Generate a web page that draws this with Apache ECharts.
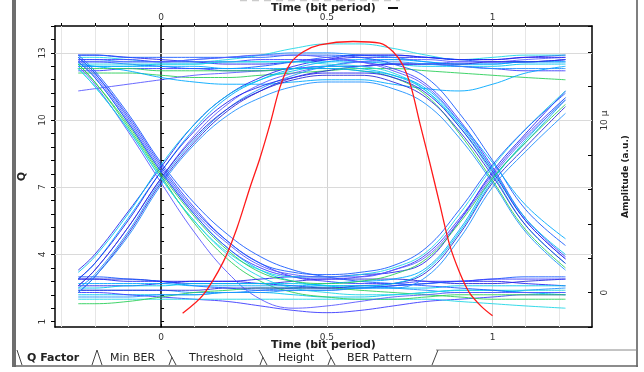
<!DOCTYPE html>
<html><head><meta charset="utf-8">
<script src="https://cdn.jsdelivr.net/npm/echarts@6/dist/echarts.min.js"></script>
<style>html,body{margin:0;padding:0;background:#fff}#c{width:644px;height:372px}</style>
</head><body><div id="c"></div>
<script>
// ---- sample times (bit periods) ----
const T = [-0.25,-0.2,-0.1,0,0.1,0.2,0.3,0.4,0.5,0.6,0.7,0.8,0.9,1,1.1,1.22];

// ---- eye traces (Q scale) ----
const highRails = [
  [12.9,12.9,12.8,12.7,12.6,12.5,12.5,12.6,12.7,12.8,12.8,12.8,12.7,12.7,12.8,12.9],
  [12.7,12.7,12.6,12.6,12.7,12.8,12.9,13.0,13.0,12.9,12.8,12.6,12.5,12.5,12.6,12.6],
  [12.4,12.4,12.4,12.5,12.5,12.6,12.6,12.6,12.6,12.6,12.5,12.4,12.4,12.4,12.5,12.5],
  [12.2,12.2,12.3,12.3,12.3,12.2,12.2,12.3,12.4,12.4,12.5,12.5,12.4,12.3,12.2,12.2],
  [12.8,12.8,12.7,12.6,12.6,12.7,12.9,13.2,13.4,13.4,13.2,12.9,12.7,12.8,12.9,12.9],
  [12.6,12.6,12.5,12.4,12.3,12.3,12.4,12.6,12.8,12.9,12.9,12.8,12.7,12.6,12.6,12.7],
  [12.1,12.1,12.1,12.0,11.9,11.9,12.0,12.1,12.2,12.3,12.3,12.2,12.1,12.0,11.9,11.8],
  [11.3,11.4,11.6,11.8,12.0,12.1,12.2,12.3,12.4,12.4,12.5,12.5,12.6,12.6,12.6,12.7],
  [12.5,12.4,12.2,11.9,11.7,11.6,11.6,11.7,11.8,11.8,11.6,11.4,11.3,11.6,12.1,12.4]
];
const lowRails = [
  [2.9,2.9,2.9,2.8,2.7,2.7,2.7,2.8,2.9,2.9,2.9,2.8,2.7,2.7,2.8,2.9],
  [2.6,2.6,2.6,2.7,2.8,2.8,2.7,2.6,2.5,2.5,2.6,2.7,2.8,2.8,2.7,2.6],
  [2.4,2.4,2.4,2.4,2.3,2.3,2.4,2.5,2.6,2.6,2.5,2.4,2.3,2.3,2.4,2.5],
  [2.2,2.2,2.2,2.2,2.2,2.3,2.3,2.2,2.1,2.1,2.2,2.3,2.4,2.4,2.3,2.2],
  [2.3,2.3,2.2,2.1,2.0,1.9,1.7,1.5,1.4,1.5,1.7,1.9,2.0,2.1,2.2,2.2],
  [2.0,2.0,2.0,2.0,2.0,2.0,2.0,2.0,2.0,2.0,2.0,2.0,1.9,1.8,1.7,1.6],
  [3.0,3.0,2.9,2.8,2.6,2.5,2.4,2.4,2.4,2.5,2.6,2.7,2.8,2.9,3.0,3.0],
  [1.8,1.8,1.9,2.1,2.3,2.4,2.5,2.5,2.5,2.4,2.3,2.2,2.1,2.0,2.0,2.0]
];
const riseStayHigh = [
  [2.6,3.3,5.2,7.4,9.3,10.7,11.6,12.1,12.4,12.6,12.7,12.7,12.6,12.6,12.7,12.8],
  [2.9,3.6,5.6,7.7,9.6,11.0,11.8,12.3,12.6,12.7,12.7,12.6,12.5,12.5,12.6,12.6],
  [2.3,3.0,4.9,7.2,9.0,10.4,11.3,11.9,12.2,12.4,12.5,12.5,12.5,12.6,12.6,12.7],
  [3.3,4.0,5.9,7.9,9.8,11.1,11.9,12.4,12.7,12.9,12.9,12.8,12.7,12.7,12.8,12.8],
  [2.5,3.1,5.0,7.3,9.1,10.5,11.4,12.0,12.4,12.6,12.6,12.5,12.4,12.3,12.3,12.3]
];
const fallStayLow = [
  [12.6,11.9,9.9,7.7,5.8,4.3,3.3,2.8,2.6,2.5,2.5,2.5,2.6,2.6,2.6,2.6],
  [12.8,12.1,10.2,8.0,6.1,4.6,3.6,3.0,2.8,2.7,2.7,2.8,2.8,2.9,2.9,2.9],
  [12.3,11.5,9.6,7.4,5.5,4.0,3.0,2.5,2.3,2.2,2.2,2.3,2.4,2.4,2.4,2.4],
  [12.9,12.2,10.3,8.1,6.3,4.9,3.9,3.3,3.0,2.8,2.7,2.6,2.5,2.4,2.3,2.3],
  [12.5,11.7,9.7,7.5,5.4,3.8,2.8,2.3,2.1,2.0,2.0,2.1,2.2,2.2,2.2,2.2],
  [12.4,11.6,9.5,7.2,5.0,3.2,2.0,1.6,1.7,1.9,2.1,2.2,2.3,2.3,2.3,2.3]
];
const lowThenRise = [
  [2.7,2.7,2.7,2.7,2.6,2.6,2.6,2.6,2.7,2.8,2.9,3.4,5.1,7.4,9.0,10.9],
  [2.4,2.4,2.4,2.4,2.4,2.5,2.5,2.5,2.5,2.6,2.7,3.2,4.9,7.2,8.8,10.6],
  [2.9,2.9,2.8,2.8,2.8,2.8,2.9,3.0,3.0,3.1,3.2,3.7,5.5,7.7,9.4,11.3],
  [2.1,2.1,2.1,2.2,2.2,2.3,2.3,2.4,2.4,2.5,2.5,3.0,4.7,7.0,8.6,10.3],
  [2.5,2.5,2.6,2.6,2.7,2.7,2.7,2.7,2.6,2.6,2.7,3.3,5.0,7.3,9.1,11.0]
];
const highThenFall = [
  [12.7,12.7,12.7,12.6,12.6,12.6,12.7,12.7,12.7,12.6,12.3,11.6,10.0,7.9,5.6,3.9],
  [12.5,12.5,12.5,12.5,12.5,12.6,12.6,12.6,12.5,12.4,12.1,11.3,9.7,7.6,5.3,3.6],
  [12.9,12.9,12.8,12.8,12.8,12.8,12.8,12.9,12.9,12.8,12.5,11.9,10.3,8.2,6.0,4.4],
  [12.3,12.3,12.3,12.2,12.2,12.2,12.2,12.3,12.3,12.2,11.9,11.1,9.4,7.3,5.1,3.4],
  [12.6,12.6,12.6,12.6,12.7,12.8,12.9,12.9,12.8,12.6,12.2,11.5,9.9,7.8,5.5,3.8],
  [12.4,12.4,12.4,12.4,12.4,12.3,12.3,12.3,12.3,12.2,12.0,11.4,9.9,8.1,6.2,4.7]
];
const isolatedOne = [
  [2.6,3.3,5.2,7.4,9.2,10.5,11.3,11.8,12.0,12.0,11.7,11.0,9.5,7.5,5.3,3.6],
  [2.9,3.6,5.5,7.7,9.5,10.8,11.5,11.9,12.1,12.1,11.9,11.2,9.7,7.7,5.5,3.8],
  [2.3,3.0,4.8,7.1,8.9,10.2,11.0,11.5,11.7,11.7,11.4,10.7,9.2,7.2,5.0,3.3],
  [3.2,3.9,5.8,8.0,9.8,11.1,11.8,12.2,12.4,12.3,12.0,11.3,9.8,7.8,5.6,4.0]
];
const isolatedZero = [
  [12.6,11.9,9.9,7.7,5.8,4.3,3.4,3.0,2.9,3.0,3.3,4.0,5.6,7.6,9.3,11.0],
  [12.3,11.5,9.6,7.4,5.5,4.1,3.3,3.0,3.0,3.1,3.4,4.1,5.8,7.9,9.6,11.3],
  [12.8,12.1,10.1,7.9,6.0,4.6,3.6,3.2,3.1,3.2,3.5,4.3,6.0,8.0,9.6,11.2],
  [12.5,11.7,9.8,7.6,5.7,4.2,3.2,2.8,2.7,2.8,3.1,3.8,5.4,7.4,9.0,10.7],
  [12.7,12.0,10.0,7.8,5.9,4.5,3.5,3.1,3.0,3.0,3.3,3.9,5.5,7.5,9.2,10.9]
];

// ---- red amplitude pulse (right axis, micro units) ----
const redTime = [0.065,0.127,0.188,0.228,0.268,0.298,0.328,0.358,0.389,0.429,0.479,0.579,0.66,0.70,0.73,0.755,0.78,0.81,0.84,0.87,0.90,0.93,0.966,1.0];
const redAmp  = [-1.2,-0.13,1.8,3.7,6.1,7.8,9.75,11.9,13.3,14.0,14.4,14.6,14.5,14.0,13.2,11.9,9.9,7.6,5.2,2.8,1.2,0.0,-0.8,-1.35];

// ---- ticks / labels ----
const xTicks = [-0.3,-0.2,-0.1,0,0.1,0.2,0.3,0.4,0.5,0.6,0.7,0.8,0.9,1,1.1,1.2];
const xLabels = [0,0.5,1];
const qTicks = [1,1.6,2.2,2.8,3.4,4,4.6,5.2,5.8,6.4,7,7.6,8.2,8.8,9.4,10,10.6,11.2,11.8,12.4,13,13.6,14.2];
const qLabels = [1,4,7,10,13];
const hGrid = [4,7,10,13];
const tabNames = ['Q Factor','Min BER','Threshold','Height','BER Pattern'];

const FONT = 'DejaVu Sans';
const palette = ['#2323ee','#1e90ff','#00c4f0','#3c3cff','#1fd6e6','#1a5cff','#2ccf5a','#5a5aff','#00a8ff','#2a2ad8'];

const series = [];
series.push({
  type:'line', xAxisIndex:0, yAxisIndex:0, data:[], silent:true, animation:false,
  markLine:{silent:true, symbol:'none', z:1, animation:false, label:{show:false},
    lineStyle:{color:'#e3e3e3', width:1, type:'solid'},
    data:[...xTicks.filter(v=>v!==0).map(v=>({xAxis:v, lineStyle:{color:(v===0.5||v===1)?'#d2d2d2':'#e6e6e6', type:'solid'}})),
          ...hGrid.map(v=>({yAxis:v, lineStyle:{color:'#dadada', type:'solid'}}))]}
});
const groups = [highRails, lowRails, riseStayHigh, fallStayLow, lowThenRise, highThenFall, isolatedOne, isolatedZero];
let k = 0;
groups.forEach(g => g.forEach(vals => {
  const c = palette[k % palette.length]; k++;
  series.push({type:'line', xAxisIndex:0, yAxisIndex:0, silent:true, animation:false,
    data:T.map((t,i)=>[t, vals[i]]), showSymbol:false, smooth:0.4,
    lineStyle:{width:1, color:c, opacity:0.9}, z:2});
}));
series.push({type:'line', xAxisIndex:0, yAxisIndex:2, silent:true, animation:false,
  data:redTime.map((t,i)=>[t, redAmp[i]]), showSymbol:false, smooth:0.3,
  lineStyle:{color:'#ff1a1a', width:1.3}, z:5});

const axisLineStyle = {color:'#000', width:1.5};
const labelStyle = {color:'#333', fontSize:9, fontFamily:FONT};
const titleStyle = {fontWeight:'bold', fontSize:11, fontFamily:FONT, color:'#222'};

const tabX = [27,110,189,278,347];
const graphic = [
  {type:'rect', shape:{x:12,y:0,width:4,height:367}, style:{fill:'#6e6e6e'}, z:100},
  {type:'line', shape:{x1:637,y1:0,x2:637,y2:367}, style:{stroke:'#555', lineWidth:1.5}, z:100},
  {type:'line', shape:{x1:14,y1:366,x2:638,y2:366}, style:{stroke:'#666', lineWidth:1.5}, z:100},
  {type:'line', shape:{x1:436,y1:350,x2:637,y2:350}, style:{stroke:'#888', lineWidth:1}, z:100},
  {type:'line', shape:{x1:240,y1:0.5,x2:400,y2:0.5}, style:{stroke:'#cccccc', lineWidth:1.5, lineDash:[7,5]}, z:100},
  {type:'rect', shape:{x:388,y:7,width:10,height:2}, style:{fill:'#111'}, z:100},
  {type:'polyline', shape:{points:[[17,350],[22,365]]}, style:{stroke:'#444', lineWidth:1, fill:null}, z:100},
  {type:'polyline', shape:{points:[[92,365],[97,350],[102,365]]}, style:{stroke:'#444', lineWidth:1, fill:null}, z:100},
  {type:'polyline', shape:{points:[[168,350],[176,365]]}, style:{stroke:'#444', lineWidth:1, fill:null}, z:100},
  {type:'polyline', shape:{points:[[169,365],[172,357]]}, style:{stroke:'#444', lineWidth:1, fill:null}, z:100},
  {type:'polyline', shape:{points:[[259,350],[267,365]]}, style:{stroke:'#444', lineWidth:1, fill:null}, z:100},
  {type:'polyline', shape:{points:[[260,365],[263,357]]}, style:{stroke:'#444', lineWidth:1, fill:null}, z:100},
  {type:'polyline', shape:{points:[[327,350],[335,365]]}, style:{stroke:'#444', lineWidth:1, fill:null}, z:100},
  {type:'polyline', shape:{points:[[328,365],[331,357]]}, style:{stroke:'#444', lineWidth:1, fill:null}, z:100},
  {type:'polyline', shape:{points:[[432,365],[438,350]]}, style:{stroke:'#444', lineWidth:1, fill:null}, z:100}
];
tabNames.forEach((n,i)=>graphic.push({type:'text', x:tabX[i], y:358, z:100,
  style:{text:n, fill:'#222', font:(i===0?'bold ':'')+'11px "DejaVu Sans"', verticalAlign:'middle'}}));

const option = {
  animation:false,
  backgroundColor:'#fff',
  grid:{left:55, right:52, top:26, bottom:45, containLabel:false, outerBoundsMode:'none'},
  xAxis:[
    {type:'value', position:'bottom', min:-0.32, max:1.3,
     axisLine:{onZero:false, lineStyle:axisLineStyle},
     axisTick:{customValues:xTicks, inside:true, length:3, lineStyle:{color:'#000'}},
     axisLabel:{customValues:xLabels, margin:6, ...labelStyle},
     splitLine:{show:false},
     name:'Time (bit period)', nameLocation:'middle', nameGap:13, nameMoveOverlap:false, nameTextStyle:titleStyle},
    {type:'value', position:'top', min:-0.32, max:1.3,
     axisLine:{onZero:false, lineStyle:axisLineStyle},
     axisTick:{customValues:xTicks, inside:false, length:3, lineStyle:{color:'#000'}},
     axisLabel:{customValues:xLabels, margin:4, ...labelStyle},
     splitLine:{show:false},
     name:'Time (bit period)', nameLocation:'middle', nameGap:12, nameMoveOverlap:false, nameTextStyle:titleStyle}
  ],
  yAxis:[
    {type:'value', position:'left', min:0.76, max:14.2,
     axisLine:{show:true, onZero:false, lineStyle:axisLineStyle},
     axisTick:{show:true, customValues:qTicks, length:4, lineStyle:{color:'#000'}},
     axisLabel:{customValues:qLabels, rotate:90, margin:8, ...labelStyle},
     splitLine:{show:false},
     name:'Q', nameLocation:'middle', nameRotate:90, nameGap:27, nameMoveOverlap:false, nameTextStyle:titleStyle},
    {type:'value', position:'left', min:0.76, max:14.2,
     axisLine:{show:true, onZero:true, lineStyle:axisLineStyle},
     axisTick:{show:true, customValues:qTicks, length:3, inside:true, lineStyle:{color:'#000'}},
     axisLabel:{show:false}, splitLine:{show:false}},
    {type:'value', position:'right', min:-2, max:15.5, interval:2,
     axisLine:{show:true, onZero:false, lineStyle:axisLineStyle},
     axisTick:{show:true, inside:true, length:4, lineStyle:{color:'#000'}},
     axisLabel:{rotate:90, margin:8, ...labelStyle, formatter:v => v===0 ? '0' : (v===10 ? '10 μ' : '')},
     splitLine:{show:false},
     name:'Amplitude (a.u.)', nameLocation:'middle', nameRotate:90, nameGap:29, nameMoveOverlap:false,
     nameTextStyle:{fontWeight:'bold', fontSize:9, fontFamily:FONT, color:'#222'}}
  ],
  series:series,
  graphic:graphic
};
const chart = echarts.init(document.getElementById('c'), null, {renderer:'canvas'});
chart.setOption(option);
</script></body></html>
